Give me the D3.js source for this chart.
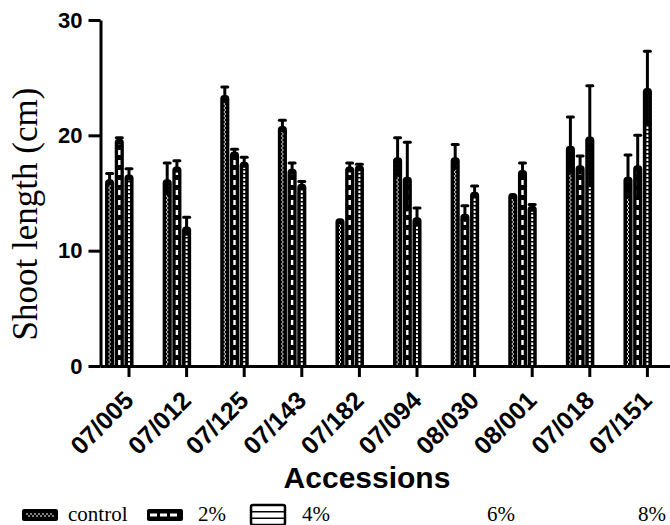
<!DOCTYPE html>
<html>
<head>
<meta charset="utf-8">
<script src="https://cdn.jsdelivr.net/npm/d3@7"></script>
<style>
  html, body { margin: 0; padding: 0; background: #fff; }
  svg { display: block; }
</style>
</head>
<body>
<svg id="chart" width="670" height="525"></svg>
<script>
// ---- data ----
const accessions = ["07/005","07/012","07/125","07/143","07/182","07/094","08/030","08/001","07/018","07/151"];
const seriesNames = ["control","2%","4%","6%","8%"];
const controlVals = [16.2, 16.2, 23.5, 20.8, 12.8, 18.1, 18.1, 15.0, 19.1, 16.4];
const controlErr  = [0.5, 1.4, 0.7, 0.5, 0.0, 1.7, 1.1, 0.0, 2.5, 1.9];
const p2Vals      = [19.7, 17.3, 18.6, 17.1, 17.3, 16.4, 13.2, 17.0, 17.4, 17.4];
const p2Err       = [0.1, 0.5, 0.2, 0.5, 0.3, 3.0, 0.7, 0.6, 0.8, 2.6];
const p4Vals      = [16.6, 12.1, 17.7, 15.8, 17.4, 12.9, 15.1, 13.9, 19.9, 24.1];
const p4Err       = [0.5, 0.8, 0.4, 0.2, 0.1, 0.8, 0.5, 0.1, 4.4, 3.2];
const yTicks = [0, 10, 20, 30];

const series = [
  {name: "control", vals: controlVals, err: controlErr},
  {name: "2%", vals: p2Vals, err: p2Err},
  {name: "4%", vals: p4Vals, err: p4Err}
];

const svg = d3.select("#chart");
const y = d3.scaleLinear([0, 30], [366, 20]);
const x = d3.scaleBand(accessions, [100.2, 676.2]).paddingInner(0.158).paddingOuter(0.079);
const xs = d3.scaleBand(seriesNames, [0, x.bandwidth()]);

const bars = svg.append("g");
const r = 3.8;
series.forEach(s => {
  s.vals.forEach((v, i) => {
    const bx = x(accessions[i]) + xs(s.name) + 0.3;
    const bw = xs.bandwidth() - 0.6;
    const top = y(v), bot = y(0);
    const cx = bx + bw / 2;
    bars.append("path")
      .attr("d", `M${bx},${bot}V${top + r}A${r},${r} 0 0 1 ${bx + r},${top}H${bx + bw - r}A${r},${r} 0 0 1 ${bx + bw},${top + r}V${bot}Z`)
      .attr("fill", "#000");
    const y1 = top + 6, y2 = bot - 1;
    if (s.name === "control") {
      bars.append("line").attr("x1", cx - 0.5).attr("x2", cx - 0.5).attr("y1", y2).attr("y2", y1)
        .attr("stroke", "#fff").attr("stroke-width", 0.9).attr("stroke-dasharray", "2 2");
      bars.append("line").attr("x1", cx + 0.5).attr("x2", cx + 0.5).attr("y1", y2).attr("y2", y1)
        .attr("stroke", "#fff").attr("stroke-width", 0.9).attr("stroke-dasharray", "2 2").attr("stroke-dashoffset", 2);
    } else if (s.name === "2%") {
      bars.append("line").attr("x1", cx).attr("x2", cx).attr("y1", y2).attr("y2", y1)
        .attr("stroke", "#fff").attr("stroke-width", 2.4).attr("stroke-dasharray", "5 5");
    } else {
      bars.append("line").attr("x1", cx).attr("x2", cx).attr("y1", y2).attr("y2", y1)
        .attr("stroke", "#fff").attr("stroke-width", 2).attr("stroke-dasharray", "2.6 1.4");
    }
    const e = s.err[i];
    if (e > 0) {
      bars.append("line").attr("x1", cx).attr("x2", cx).attr("y1", y(v - e)).attr("y2", y(v + e))
        .attr("stroke", "#000").attr("stroke-width", 3);
      bars.append("line").attr("x1", cx - 3).attr("x2", cx + 3).attr("y1", y(v + e)).attr("y2", y(v + e))
        .attr("stroke", "#000").attr("stroke-width", 3).attr("stroke-linecap", "round");
    }
  });
});

// ---- axes ----
const yAxis = svg.append("g").attr("transform", "translate(100.5,0)")
  .call(d3.axisLeft(y).tickValues(yTicks).tickSize(12).tickSizeOuter(0).tickPadding(6));
yAxis.select(".domain").attr("stroke-width", 3);
yAxis.selectAll(".tick line").attr("stroke-width", 3);
yAxis.selectAll(".tick text").attr("font-family", "Liberation Sans, Arial, sans-serif")
  .attr("font-weight", "bold").attr("font-size", 22).attr("fill", "#000");

const xAxis = svg.append("g").attr("transform", "translate(0,366)")
  .call(d3.axisBottom(x).tickSize(11).tickSizeOuter(0));
xAxis.select(".domain").attr("stroke-width", 3);
xAxis.selectAll(".tick line").attr("stroke-width", 3);
xAxis.selectAll(".tick text")
  .attr("y", null).attr("dy", null).attr("x", null)
  .attr("text-anchor", "end")
  .attr("transform", "translate(6,36) rotate(-45)")
  .attr("font-family", "Liberation Sans, Arial, sans-serif")
  .attr("font-weight", "bold").attr("font-size", 25).attr("fill", "#000");

// ---- titles ----
svg.append("text").attr("x", 367).attr("y", 488).attr("text-anchor", "middle")
  .attr("font-family", "Liberation Sans, Arial, sans-serif").attr("font-weight", "bold")
  .attr("font-size", 30).text("Accessions");

svg.append("text").attr("transform", "translate(37,214) rotate(-90)").attr("text-anchor", "middle")
  .attr("font-family", "Liberation Serif, Times New Roman, serif")
  .attr("font-size", 35).text("Shoot length (cm)");

// ---- legend ----
const lg = svg.append("g");
const ly = 515;
// control box
lg.append("rect").attr("x", 22).attr("y", ly - 6).attr("width", 36).attr("height", 12).attr("rx", 2).attr("fill", "#000");
lg.append("line").attr("x1", 26).attr("x2", 54).attr("y1", ly - 1).attr("y2", ly - 1)
  .attr("stroke", "#fff").attr("stroke-width", 1.2).attr("stroke-dasharray", "2 2");
lg.append("line").attr("x1", 26).attr("x2", 54).attr("y1", ly + 1).attr("y2", ly + 1)
  .attr("stroke", "#fff").attr("stroke-width", 1.2).attr("stroke-dasharray", "2 2").attr("stroke-dashoffset", 2);
// 2% box
lg.append("rect").attr("x", 147).attr("y", ly - 6).attr("width", 36).attr("height", 12).attr("rx", 2).attr("fill", "#000");
lg.append("line").attr("x1", 150).attr("x2", 180).attr("y1", ly).attr("y2", ly)
  .attr("stroke", "#fff").attr("stroke-width", 3).attr("stroke-dasharray", "7 3");
// 4% box
lg.append("rect").attr("x", 251).attr("y", ly - 10).attr("width", 34).attr("height", 20).attr("rx", 2)
  .attr("fill", "#fff").attr("stroke", "#000").attr("stroke-width", 2.5);
[-3.3, 3.3].forEach(d => lg.append("line").attr("x1", 251).attr("x2", 285).attr("y1", ly + d).attr("y2", ly + d)
  .attr("stroke", "#000").attr("stroke-width", 1.6));

const legendText = [
  {t: "control", x: 68},
  {t: "2%", x: 198},
  {t: "4%", x: 302},
  {t: "6%", x: 487},
  {t: "8%", x: 638}
];
legendText.forEach(d => lg.append("text").attr("x", d.x).attr("y", ly + 6)
  .attr("font-family", "Liberation Serif, Times New Roman, serif").attr("font-size", 21).text(d.t));
</script>
</body>
</html>
